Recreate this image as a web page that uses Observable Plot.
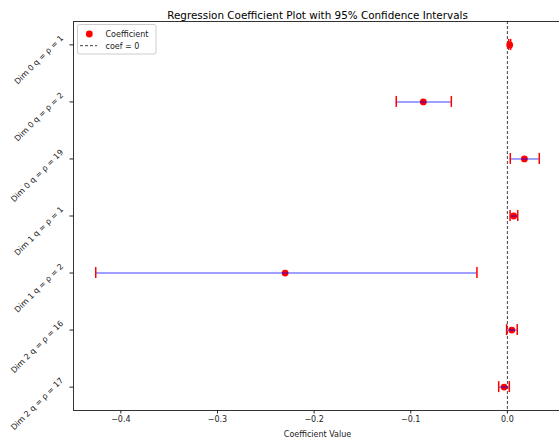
<!DOCTYPE html>
<html>
<head>
<meta charset="utf-8">
<script src="https://cdn.jsdelivr.net/npm/d3@7"></script>
<script src="https://cdn.jsdelivr.net/npm/@observablehq/plot@0.6"></script>
<style>
  html, body { margin: 0; padding: 0; background: #fff; }
  #chart { position: relative; width: 559px; height: 439px; }
</style>
</head>
<body>
<div id="chart"></div>
<script>
const terms = ["Dim 0 q = ρ = 1", "Dim 0 q = ρ = 2", "Dim 0 q = ρ = 19", "Dim 1 q = ρ = 1", "Dim 1 q = ρ = 2", "Dim 2 q = ρ = 16", "Dim 2 q = ρ = 17"];
const coef  = [0.0024, -0.087, 0.0176, 0.0065, -0.230, 0.0046, -0.0034];
const ciLow = [0.0014, -0.115, 0.0030, 0.0028, -0.426, -0.0008, -0.0090];
const ciHigh= [0.0034, -0.058, 0.0330, 0.0107, -0.0315, 0.0102, 0.0020];
const xTicks = [-0.4, -0.3, -0.2, -0.1, 0.0];
const title = "Regression Coefficient Plot with 95% Confidence Intervals";
const xLabel = "Coefficient Value";

const data = terms.map((t, i) => ({term: t, coef: coef[i], lo: ciLow[i], hi: ciHigh[i]}));
const font = "DejaVu Sans, sans-serif";

const plot = Plot.plot({
  width: 559,
  height: 439,
  marginLeft: 73,
  marginRight: -2,
  marginTop: 21,
  marginBottom: 29,
  style: {fontFamily: font, fontSize: "8px", color: "#222", background: "#fff"},
  x: {domain: [-0.449, 0.056]},
  y: {type: "point", domain: terms, padding: 0.41, round: false},
  marks: [
    Plot.frame({stroke: "#333", strokeWidth: 1}),
    Plot.axisX({ticks: xTicks, tickFormat: d3.format(".1f"), tickSize: 3.5, tickPadding: 2, fontSize: 8,
      label: xLabel, labelAnchor: "center", labelArrow: "none", labelOffset: 26}),
    Plot.axisY({tickSize: 3.5, tickFormat: () => "", label: null}),
    Plot.axisY({tickSize: 0, tickRotate: -45, tickPadding: 7.5, fontSize: 8, label: null, dy: -8, dx: -4}),
    Plot.ruleX([0], {stroke: "#000", strokeOpacity: 0.75, strokeDasharray: "3,2", strokeWidth: 1}),
    Plot.dot(data, {x: "coef", y: "term", r: 3.4, fill: "red", stroke: "none"}),
    Plot.ruleY(data, {x1: "lo", x2: "hi", y: "term", stroke: "blue", strokeOpacity: 0.5, strokeWidth: 1.5}),
    Plot.ruleX(data, {x: "lo", y1: "term", y2: "term", stroke: "red", strokeWidth: 1.5, insetTop: -5.5, insetBottom: -5.5}),
    Plot.ruleX(data, {x: "hi", y1: "term", y2: "term", stroke: "red", strokeWidth: 1.5, insetTop: -5.5, insetBottom: -5.5}),
    Plot.text([title], {frameAnchor: "top", dy: -10, fontSize: 10.4, fill: "#000"})
  ]
});

// legend
const svg = d3.select(plot);
const lg = svg.append("g").attr("font-family", font).attr("font-size", 8).attr("text-anchor", "start");
lg.append("rect").attr("x", 77.5).attr("y", 24.5).attr("width", 78.5).attr("height", 29.5)
  .attr("rx", 2).attr("fill", "#fff").attr("fill-opacity", 0.8).attr("stroke", "#ccc");
lg.append("circle").attr("cx", 89.3).attr("cy", 34).attr("r", 3.4).attr("fill", "red");
lg.append("text").attr("x", 105.5).attr("y", 34).attr("dy", "0.35em").attr("fill", "#222").text("Coefficient");
lg.append("line").attr("x1", 80).attr("x2", 97).attr("y1", 45.7).attr("y2", 45.7)
  .attr("stroke", "#000").attr("stroke-opacity", 0.75).attr("stroke-dasharray", "3,2");
lg.append("text").attr("x", 105.5).attr("y", 45.7).attr("dy", "0.35em").attr("fill", "#222").text("coef = 0");

document.getElementById("chart").appendChild(plot);
</script>
</body>
</html>
